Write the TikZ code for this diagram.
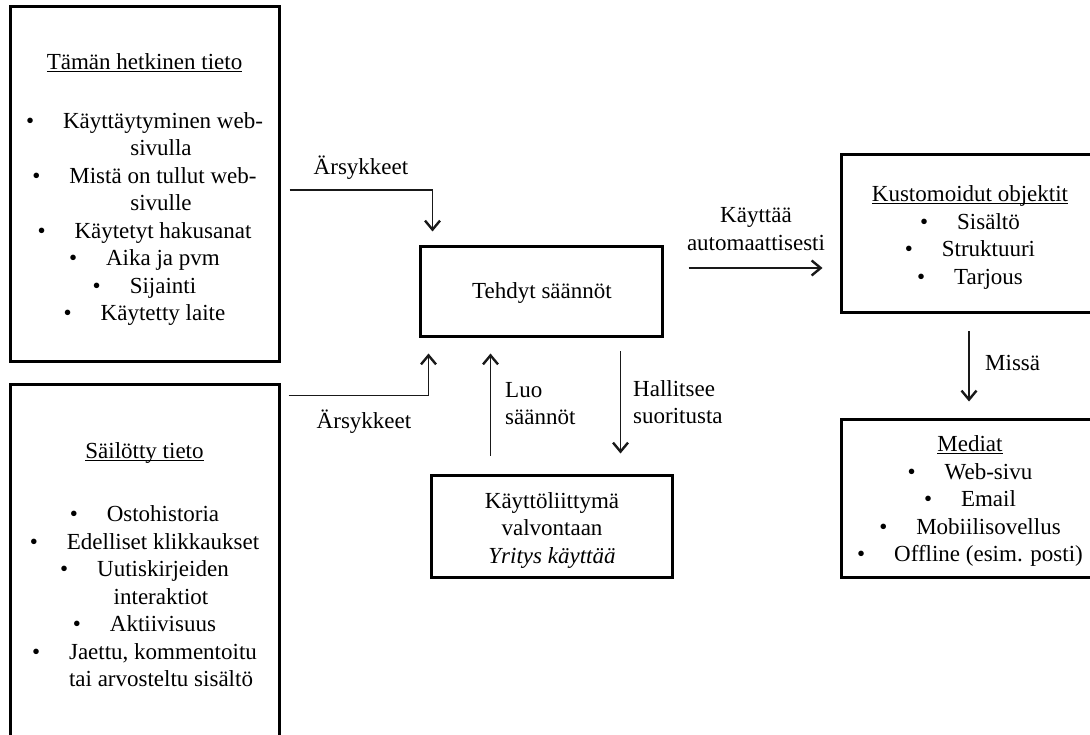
\documentclass[tikz,border=0pt]{standalone}
\usepackage{fontspec}
\setmainfont{Liberation Serif}
\usetikzlibrary{arrows.meta,calc}

% bullet item: dot followed by a fixed gap
\newcommand\bl{\makebox[8pt]{\textbullet}\hspace{29pt}}
% continuation line of a wrapped bullet item
\newcommand\hang{\hspace*{33pt}}
% underline at a fixed distance below the baseline
\newcommand\uln[1]{\setbox0\hbox{#1}\rlap{\rule[-2.6pt]{\wd0}{1.1pt}}\box0}

\tikzset{
  frame/.style={draw=black, line width=3pt, inner sep=0pt},
  link/.style={draw=black!90, line width=1.4pt,
    -{Straight Barb[length=9pt,width=15pt,line width=2.4pt]}},
  txt/.style={align=center, inner sep=0pt, text=black,
    font=\fontsize{23}{27.5}\selectfont},
  ltxt/.style={txt, align=left, anchor=west},
}

\begin{document}
\begin{tikzpicture}[x=1pt,y=-1pt]
\useasboundingbox (0,0) rectangle (1090,735);

% boxes
\node[frame, minimum width=269pt, minimum height=355pt] (now)    at (144.5,184.5) {};
\node[frame, minimum width=269pt, minimum height=361pt] (stored) at (144.5,564.5) {};
\node[frame, minimum width=242pt, minimum height=90pt]  (rules)  at (541,292) {};
\node[frame, minimum width=241pt, minimum height=102pt] (ui)     at (551.5,526) {};
\node[frame, minimum width=258pt, minimum height=158pt] (custom) at (970,234) {};
\node[frame, minimum width=258pt, minimum height=158pt] (media)  at (970,498) {};

% current data
\node[txt] (nowtitle) at (144.5,63) {\uln{Tämän hetkinen tieto}};
\node[txt] (nowlist) at (144.5,219) {%
  \bl Käyttäytyminen web-\\
  \hang sivulla\\
  \bl Mistä on tullut web-\\
  \hang sivulle\\
  \bl Käytetyt hakusanat\\
  \bl Aika ja pvm\\
  \bl Sijainti\\
  \bl Käytetty laite};

% stored data
\node[txt] (storedtitle) at (144.5,453) {\uln{Säilötty tieto}};
\node[txt] (storedlist) at (144.5,596.5) {%
  \bl Ostohistoria\\
  \bl Edelliset klikkaukset\\
  \bl Uutiskirjeiden\\
  \hang interaktiot\\
  \bl Aktiivisuus\\
  \bl Jaettu, kommentoitu\\
  \hang tai arvosteltu sisältö};

% centre
\node[txt] (rulestext) at (542,293) {Tehdyt säännöt};
\node[txt] (uitext) at (552,530.5) {Käyttöliittymä\\valvontaan\\\textit{Yritys käyttää}};

% right column
\node[txt] (customtext) at (970,237.5) {%
  \uln{Kustomoidut objektit}\\
  \bl Sisältö\\
  \bl Struktuuri\\
  \bl Tarjous};
\node[txt] (mediatext) at (970,501) {%
  \uln{Mediat}\\
  \bl Web-sivu\\
  \bl Email\\
  \bl Mobiilisovellus\\
  \bl Offline (esim. posti)};

% connectors
\draw[link] ($(now.east)+(9,5.5)$) -| ($(rules.north west)+(14,-14)$);
\draw[link] ($(stored.north east)+(8,13)$) -| ($(rules.south west)+(10,15)$);
\draw[link] ($(ui.north west)+(61,-18)$) -- ($(rules.south west)+(72,15)$);
\draw[link] ($(rules.south west)+(202,13)$) -- ($(ui.north west)+(191,-20)$);
\draw[link] ($(rules.east)+(25,-24)$) -- ($(custom.west)+(-17,34)$);
\draw[link] ($(custom.south)+(-1,17)$) -- ($(media.north)+(-1,-16)$);

% connector labels
\node[txt] (lab1) at (361,168) {Ärsykkeet};
\node[txt] (lab2) at (364,422) {Ärsykkeet};
\node[txt] (lab3) at (756,229) {Käyttää\\automaattisesti};
\node[ltxt] (lab4) at (505,403.5) {Luo\\säännöt};
\node[ltxt] (lab5) at (633,402) {Hallitsee\\suoritusta};
\node[ltxt] (lab6) at (985,363) {Missä};
\end{tikzpicture}
\end{document}
